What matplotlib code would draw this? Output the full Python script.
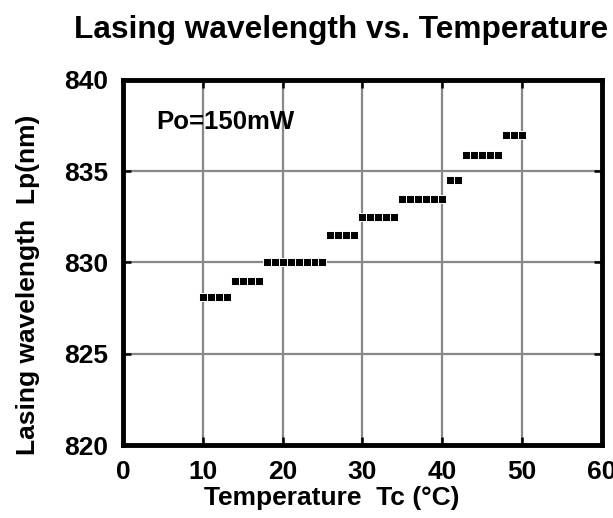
import matplotlib
matplotlib.use("Agg")
import matplotlib.pyplot as plt

plt.rcParams['font.family'] = ['Liberation Sans', 'DejaVu Sans']
plt.rcParams['font.weight'] = 'bold'

# wavelength steps (temperature 10..50 degC)
temps = [10, 11, 12, 13,
         14, 15, 16, 17,
         18, 19, 20, 21, 22, 23, 24, 25,
         26, 27, 28, 29,
         30, 31, 32, 33, 34,
         35, 36, 37, 38, 39, 40,
         41, 42,
         43, 44, 45, 46, 47,
         48, 49, 50]
wavelen = [828.1] * 4 + [829.0] * 4 + [830.0] * 8 + [831.5] * 4 + \
          [832.5] * 5 + [833.5] * 6 + [834.5] * 2 + [835.9] * 5 + [837.0] * 3

xticks = [0, 10, 20, 30, 40, 50, 60]
yticks = [820, 825, 830, 835, 840]

fig = plt.figure(figsize=(6.13, 5.18), dpi=100)
ax = fig.add_axes([0.2007, 0.1409, 0.7809, 0.7047])

# white edge leaves the thin gap between neighbouring squares
ax.plot(temps, wavelen, 's', color='black', markersize=6.2, markeredgewidth=0.7,
        markeredgecolor='white', zorder=3)

ax.set_xlim(0, 60)
ax.set_ylim(820, 840)
ax.set_xticks(xticks)
ax.set_yticks(yticks)
ax.grid(True, color='#888888', linewidth=1.6)
ax.set_axisbelow(True)
for s in ax.spines.values():
    s.set_linewidth(3.5)
ax.tick_params(direction='in', length=6, width=1.8, top=True, right=True,
               labelsize=19, pad=11)

ax.text(4.2, 837.32, 'Po=150mW', fontsize=18.5, fontweight='bold',
        va='baseline', ha='left')

xl = ax.set_xlabel('Temperature  Tc (°C)', fontsize=19, fontweight='bold')
xl.set_va('baseline')
ax.xaxis.set_label_coords(0.437, -0.164)
yl = ax.set_ylabel('Lasing wavelength  Lp(nm)', fontsize=19, fontweight='bold')
yl.set_va('baseline')
ax.yaxis.set_label_coords(-0.184, 0.438)

fig.text(0.557, 0.9266, 'Lasing wavelength vs. Temperature', fontsize=22.8,
         fontweight='bold', ha='center', va='baseline')

fig.savefig('out.png', dpi=100)
